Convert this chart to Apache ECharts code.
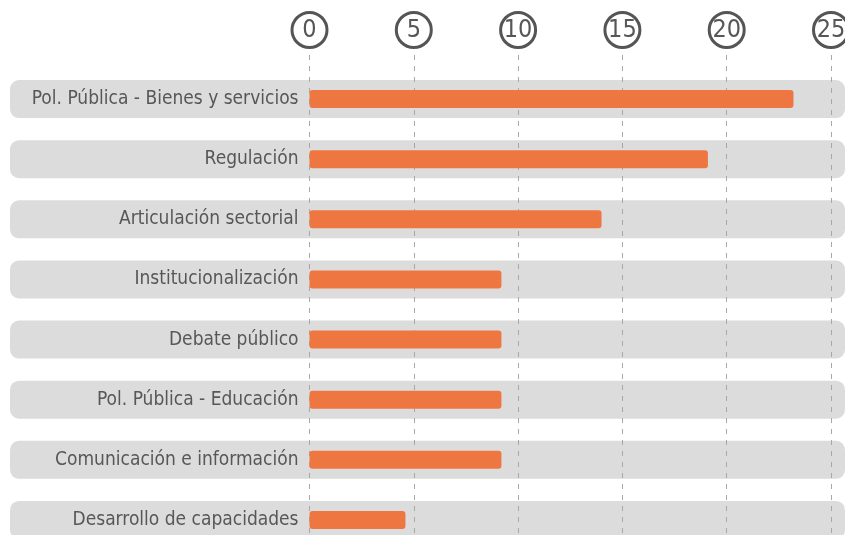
<!DOCTYPE html>
<html>
<head>
<meta charset="utf-8">
<script src="https://cdn.jsdelivr.net/npm/echarts@6/dist/echarts.min.js"></script>
<style>
  html, body { margin: 0; padding: 0; background: #ffffff; overflow: hidden; }
  /* the last row runs past the bottom edge of the view */
  #chart { width: 845px; height: 550px; }
</style>
</head>
<body>
<div id="chart"></div>
<script>
// Categories, top to bottom
var categories = [
  'Pol. Pública - Bienes y servicios',
  'Regulación',
  'Articulación sectorial',
  'Institucionalización',
  'Debate público',
  'Pol. Pública - Educación',
  'Comunicación e información',
  'Desarrollo de capacidades'
];
// Number of mentions per category
var values = [23.2, 19.1, 14, 9.2, 9.2, 9.2, 9.2, 4.6];
// Scale ticks shown in circles along the top
var tickMin = 0;
var tickMax = 25;
var tickStep = 5;

var FONT = '"Liberation Sans Narrow", "DejaVu Sans Condensed", sans-serif';
var TEXT = '#575757';
var ORANGE = '#EE7641';
var TRACK = '#DCDCDC';

var chart = echarts.init(document.getElementById('chart'), null, { renderer: 'canvas' });

chart.setOption({
  animation: false,
  backgroundColor: '#ffffff',
  grid: [
    // full-width rounded tracks behind each row
    { left: 10, right: 0, top: 69, bottom: 0, outerBoundsMode: 'none' },
    // scale with circled ticks and dashed guides (last circle runs off the edge)
    { left: 309.5, right: 14, top: 55, bottom: 0, outerBoundsMode: 'none' },
    // value bars
    { left: 309.5, right: 14, top: 69, bottom: 0, outerBoundsMode: 'none' }
  ],
  xAxis: [
    { gridIndex: 0, type: 'value', min: 0, max: 1, show: false },
    {
      gridIndex: 1, type: 'value', position: 'top',
      min: tickMin, max: tickMax, interval: tickStep, z: 1,
      axisLine: { show: false }, axisTick: { show: false },
      splitLine: { show: true, lineStyle: { color: '#A8A8A8', width: 1, type: [5, 6] } },
      axisLabel: {
        show: true, margin: 25, showMinLabel: true, showMaxLabel: true,
        fontFamily: FONT, fontSize: 25, color: TEXT,
        width: 35, height: 35, lineHeight: 35, align: 'center', verticalAlign: 'middle',
        borderColor: '#555555', borderWidth: 3, borderRadius: 18, padding: 0
      }
    },
    { gridIndex: 2, type: 'value', min: tickMin, max: tickMax, show: false }
  ],
  yAxis: [
    { gridIndex: 0, type: 'category', data: categories, inverse: true, show: false },
    { gridIndex: 1, type: 'value', min: 0, max: 1, show: false },
    {
      gridIndex: 2, type: 'category', data: categories, inverse: true, z: 3,
      axisLine: { show: false }, axisTick: { show: false }, splitLine: { show: false },
      axisLabel: { margin: 11, fontFamily: FONT, fontSize: 19, color: TEXT, align: 'right' }
    }
  ],
  series: [
    {
      type: 'bar', xAxisIndex: 0, yAxisIndex: 0, z: 0,
      data: categories.map(function () { return 1; }),
      barWidth: 38, silent: true,
      itemStyle: { color: TRACK, borderRadius: 9 }
    },
    {
      type: 'bar', xAxisIndex: 2, yAxisIndex: 2, z: 4,
      data: values, barWidth: 18,
      itemStyle: { color: ORANGE, borderRadius: 3 }
    }
  ]
});
</script>
</body>
</html>
